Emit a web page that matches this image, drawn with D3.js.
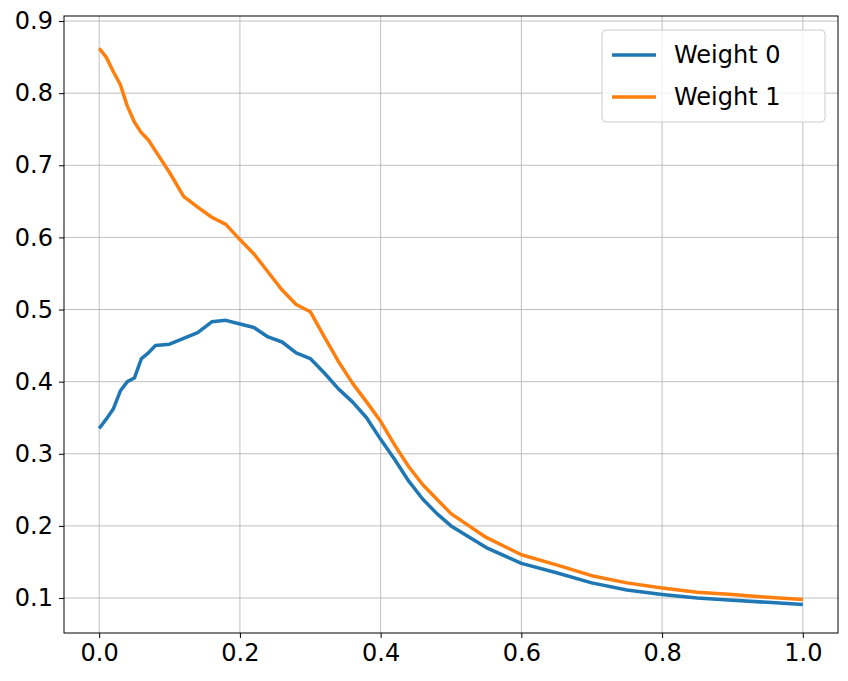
<!DOCTYPE html>
<html>
<head>
<meta charset="utf-8">
<script src="https://cdn.jsdelivr.net/npm/d3@7"></script>
<style>
body { margin: 0; background: #fff; }
text { font-family: "DejaVu Sans", sans-serif; }
</style>
</head>
<body>
<svg id="chart" width="848" height="681"></svg>
<script>
var xs = [0, 0.01, 0.02, 0.03, 0.04, 0.05, 0.06, 0.07, 0.08, 0.1, 0.12, 0.14, 0.16, 0.18, 0.2, 0.22, 0.24, 0.26, 0.28, 0.3,
          0.32, 0.34, 0.36, 0.38, 0.4, 0.42, 0.44, 0.46, 0.48, 0.5, 0.55, 0.6, 0.65, 0.7, 0.75, 0.8, 0.85, 0.9, 0.95, 1.0];
var weight0 = [0.335, 0.348, 0.362, 0.387, 0.400, 0.405, 0.432, 0.440, 0.450, 0.452, 0.460, 0.468, 0.483, 0.485, 0.480, 0.475, 0.462, 0.455, 0.440, 0.432,
               0.412, 0.390, 0.372, 0.350, 0.320, 0.292, 0.262, 0.237, 0.217, 0.200, 0.170, 0.148, 0.135, 0.121, 0.111, 0.105, 0.100, 0.097, 0.094, 0.091];
var weight1 = [0.862, 0.850, 0.830, 0.812, 0.782, 0.760, 0.745, 0.735, 0.720, 0.690, 0.657, 0.642, 0.628, 0.618, 0.597, 0.577, 0.552, 0.527, 0.507, 0.497,
               0.462, 0.428, 0.398, 0.372, 0.345, 0.312, 0.282, 0.257, 0.237, 0.217, 0.184, 0.160, 0.146, 0.131, 0.121, 0.114, 0.108, 0.105, 0.101, 0.098];
var xTicks = [0, 0.2, 0.4, 0.6, 0.8, 1.0];
var yTicks = [0.1, 0.2, 0.3, 0.4, 0.5, 0.6, 0.7, 0.8, 0.9];
var series = [
    {name: "Weight 0", values: weight0, color: "#1f77b4"},
    {name: "Weight 1", values: weight1, color: "#ff7f0e"}
];

var plotLeft = 64, plotRight = 838, plotTop = 16, plotBottom = 633;
var svg = d3.select("#chart");
var x = d3.scaleLinear().domain([-0.05, 1.05]).range([plotLeft, plotRight]);
var y = d3.scaleLinear().domain([0.0515, 0.907]).range([plotBottom, plotTop]);

// grid
svg.append("g").selectAll("line").data(xTicks).join("line")
    .attr("x1", d => x(d)).attr("x2", d => x(d)).attr("y1", plotTop).attr("y2", plotBottom)
    .attr("stroke", "#b0b0b0").attr("stroke-width", 0.8);
svg.append("g").selectAll("line").data(yTicks).join("line")
    .attr("y1", d => y(d)).attr("y2", d => y(d)).attr("x1", plotLeft).attr("x2", plotRight)
    .attr("stroke", "#b0b0b0").attr("stroke-width", 0.8);

var xAxis = svg.append("g").attr("transform", "translate(0," + plotBottom + ")")
    .call(d3.axisBottom(x).tickValues(xTicks).tickFormat(d3.format(".1f")).tickSize(5).tickPadding(6));
var yAxis = svg.append("g").attr("transform", "translate(" + plotLeft + ",0)")
    .call(d3.axisLeft(y).tickValues(yTicks).tickFormat(d3.format(".1f")).tickSize(5).tickPadding(6));
[xAxis, yAxis].forEach(function (a) {
    a.select(".domain").remove();
    a.attr("font-size", null).attr("font-family", null);
    a.selectAll("text").style("font-size", "24px").attr("fill", "#000").style("font-family", "DejaVu Sans");
    a.selectAll("line").attr("stroke", "#000");
});

var line = d3.line().x((d, i) => x(xs[i])).y(d => y(d));
series.forEach(function (s) {
    svg.append("path").datum(s.values).attr("d", line)
        .attr("fill", "none").attr("stroke", s.color).attr("stroke-width", 3.5)
        .attr("stroke-linejoin", "round");
});

svg.append("rect").attr("x", plotLeft).attr("y", plotTop).attr("width", plotRight - plotLeft).attr("height", plotBottom - plotTop)
    .attr("fill", "none").attr("stroke", "#000").attr("stroke-width", 1);

// legend
var lg = svg.append("g").attr("transform", "translate(602,30)");
lg.append("rect").attr("width", 223).attr("height", 92).attr("rx", 4)
    .attr("fill", "#fff").attr("fill-opacity", 0.8).attr("stroke", "#ccc");
series.forEach(function (s, i) {
    var cy = 25 + i * 42;
    lg.append("line").attr("x1", 10).attr("x2", 54).attr("y1", cy).attr("y2", cy)
        .attr("stroke", s.color).attr("stroke-width", 3.5);
    lg.append("text").attr("x", 72).attr("y", cy + 8).style("font-size", "24px").text(s.name);
});
</script>
</body>
</html>
